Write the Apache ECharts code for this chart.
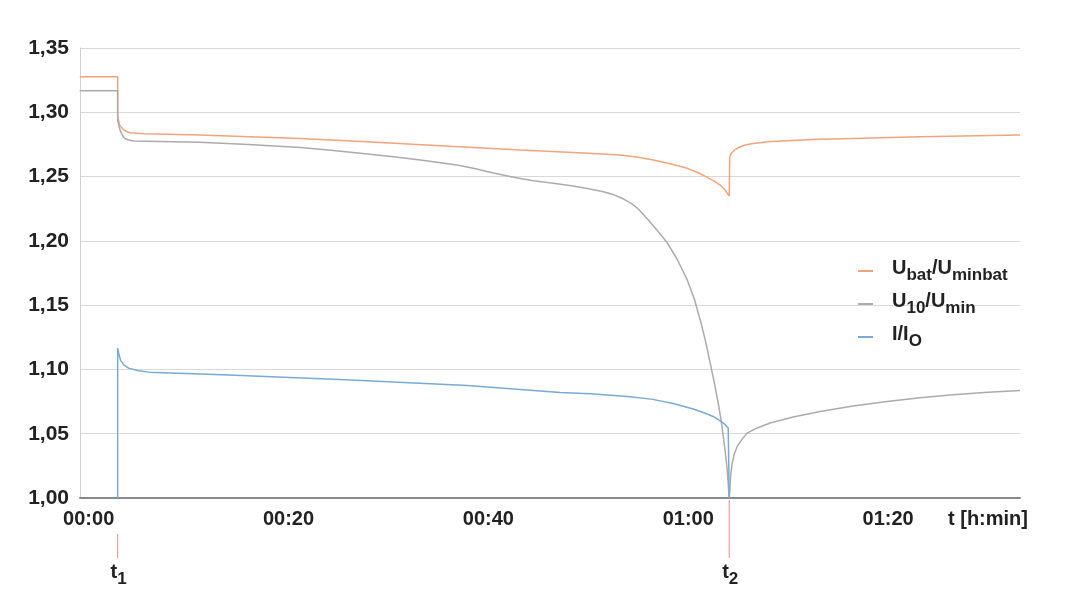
<!DOCTYPE html>
<html>
<head>
<meta charset="utf-8">
<script src="https://cdn.jsdelivr.net/npm/echarts@6/dist/echarts.min.js"></script>
<style>html,body{margin:0;padding:0;background:#fff}#c{width:1074px;height:614px}</style>
</head>
<body>
<div id="c"></div>
<script>
// ---- data (time in minutes, values as ratios) ----
const ubatT = [-0.9, 2.9, 2.9, 3.1, 3.5, 4.1, 5.5, 11.1, 21.2, 27.8, 35.2, 43.2, 49.0, 53.2, 55.0, 56.5, 58.2, 59.9, 61.0, 61.9, 62.6, 63.2, 63.7, 64.1, 64.15, 64.3, 64.6, 65.2, 65.8, 66.5, 68.0, 69.9, 73.0, 76.5, 83.2, 93.2];
const ubatV = [1.3276, 1.3276, 1.2965, 1.2900, 1.2862, 1.2841, 1.2833, 1.2823, 1.2797, 1.2771, 1.2740, 1.2706, 1.2685, 1.2667, 1.2650, 1.2629, 1.2600, 1.2564, 1.2530, 1.2494, 1.2465, 1.2434, 1.2395, 1.2349, 1.2654, 1.2680, 1.2705, 1.2732, 1.2748, 1.2758, 1.2770, 1.2779, 1.2790, 1.2797, 1.2810, 1.2823];

const u10T = [-0.9, 2.9, 2.9, 3.05, 3.2, 3.4, 3.6, 4.0, 4.5, 11.1, 16.0, 21.2, 24.5, 27.9, 30.5, 33.2, 35.2, 37.0, 38.6, 40.5, 42.5, 44.5, 46.5, 48.3, 49.9, 51.3, 52.5, 53.5, 54.3, 55.0, 55.9, 56.9, 57.9, 58.9, 59.9, 60.6, 61.2, 61.7, 62.2, 62.6, 63.0, 63.3, 63.5, 63.7, 63.9, 64.1, 64.15, 64.25, 64.4, 64.6, 64.9, 65.4, 65.9, 66.9, 68.2, 70.5, 73.2, 76.5, 79.9, 83.2, 86.5, 90.0, 93.2];
const u10V = [1.3167, 1.3167, 1.2940, 1.2885, 1.2849, 1.2818, 1.2797, 1.2784, 1.2776, 1.2766, 1.2750, 1.2727, 1.2703, 1.2675, 1.2654, 1.2629, 1.2608, 1.2588, 1.2562, 1.2528, 1.2494, 1.2468, 1.2448, 1.2428, 1.2408, 1.2386, 1.2360, 1.2327, 1.2292, 1.2248, 1.2172, 1.2080, 1.1985, 1.1855, 1.1696, 1.1550, 1.1385, 1.1230, 1.1049, 1.0900, 1.0738, 1.0600, 1.0479, 1.0360, 1.0220, 1.0000, 1.0050, 1.0180, 1.0270, 1.0340, 1.0401, 1.0458, 1.0505, 1.0545, 1.0583, 1.0630, 1.0673, 1.0715, 1.0751, 1.0780, 1.0803, 1.0822, 1.0836];

const curT = [2.9, 2.9, 3.05, 3.2, 3.5, 4.0, 5.0, 6.0, 13.4, 25.7, 37.9, 47.2, 50.2, 53.9, 56.3, 58.5, 60.5, 61.5, 62.5, 63.2, 63.7, 64.0, 64.1, 64.1];
const curV = [1.0, 1.1166, 1.1110, 1.1070, 1.1035, 1.1010, 1.0990, 1.0979, 1.0958, 1.0919, 1.0875, 1.0821, 1.0810, 1.0789, 1.0769, 1.0735, 1.0692, 1.0665, 1.0634, 1.0600, 1.0570, 1.0545, 1.0531, 1.0];

const seriesNames = ['Ubat/Uminbat', 'U10/Umin', 'I/Io'];
const xTickValues = [0, 20, 40, 60, 80];
const yMin = 1.0, yMax = 1.35, yStep = 0.05;
const xMin = -0.87, xMax = 93.2;
const markerNames = ['1', '2'];
const markerTimes = [2.9, 64.1];

// ---- styles ----
const colors = ['#f2a47c', '#ababab', '#79aad6'];
const markerLineTop = [36, 2];
const FONT = '"Liberation Sans", Arial, sans-serif';

const zip = (t, v) => t.map((x, i) => [x, v[i]]);
const legendRich = {
  g: { width: 14 },
  u: { fontSize: 20, fontWeight: 'bold', color: '#222', fontFamily: FONT, verticalAlign: 'top', lineHeight: 21 },
  s: { fontSize: 17, fontWeight: 'bold', color: '#222', fontFamily: FONT, verticalAlign: 'bottom', padding: [9, 0, 0, 0] }
};
const legendFmt = {
  'Ubat/Uminbat': '{g|}{u|U}{s|bat}{u|/U}{s|minbat}',
  'U10/Umin': '{g|}{u|U}{s|10}{u|/U}{s|min}',
  'I/Io': '{g|}{u|I/I}{s|O}'
};
const pad2 = n => String(n).padStart(2, '0');

const chart = echarts.init(document.getElementById('c'), null, { renderer: 'canvas' });
chart.setOption({
  animation: false,
  backgroundColor: '#fff',
  grid: { left: 80, right: 54, top: 48, bottom: 116, containLabel: false },
  legend: {
    orient: 'vertical', left: 853, top: 253, itemGap: 7,
    icon: 'rect', itemWidth: 15, itemHeight: 2,
    data: seriesNames,
    formatter: name => legendFmt[name],
    textStyle: { rich: legendRich, fontFamily: FONT }
  },
  xAxis: {
    type: 'value', min: xMin, max: xMax,
    axisLine: { show: true, lineStyle: { color: '#8a8a8a', width: 2 } },
    axisTick: { show: false },
    splitLine: { show: false },
    axisLabel: {
      customValues: xTickValues,
      margin: 11,
      color: '#222', fontSize: 20, fontWeight: 'bold', fontFamily: FONT,
      formatter: v => pad2(Math.floor(v / 60)) + ':' + pad2(Math.round(v % 60))
    },
    name: 't [h:min]', nameLocation: 'end', nameGap: 8,
    nameTextStyle: { color: '#222', fontSize: 20, fontWeight: 'bold', fontFamily: FONT, align: 'right', verticalAlign: 'top', padding: [11, 0, 0, 0] }
  },
  yAxis: {
    type: 'value', min: yMin, max: yMax, interval: yStep,
    axisLine: { show: true, onZero: false, lineStyle: { color: '#d0d0d0', width: 1 } },
    axisTick: { show: false },
    splitLine: { show: true, lineStyle: { color: '#d9d9d9', width: 1 } },
    axisLabel: {
      margin: 11, color: '#222', fontSize: 21, fontWeight: 'bold', fontFamily: FONT,
      formatter: v => v.toFixed(2).replace('.', ',')
    }
  },
  series: [
    { name: seriesNames[0], type: 'line', data: zip(ubatT, ubatV), color: colors[0], symbol: 'none', lineStyle: { width: 1.5, color: colors[0] } },
    { name: seriesNames[1], type: 'line', data: zip(u10T, u10V), color: colors[1], symbol: 'none', lineStyle: { width: 1.5, color: colors[1] } },
    { name: seriesNames[2], type: 'line', data: zip(curT, curV), color: colors[2], symbol: 'none', lineStyle: { width: 1.5, color: colors[2] } },
    {
      name: 'markers', type: 'custom', clip: false, silent: true,
      data: markerTimes.map(t => [t, yMin]),
      encode: { x: 0, y: 1 },
      renderItem: (params, api) => {
        const i = params.dataIndex;
        const p = api.coord([api.value(0), api.value(1)]);
        return {
          type: 'group',
          children: [
            { type: 'line', shape: { x1: p[0], y1: p[1] + markerLineTop[i], x2: p[0], y2: p[1] + 60 }, style: { stroke: '#f08a8a', lineWidth: 1 } },
            {
              type: 'text', x: p[0] + 1, y: p[1] + 64,
              style: {
                text: '{t|t}{s|' + markerNames[i] + '}', align: 'center', verticalAlign: 'top',
                rich: {
                  t: { fontSize: 20, fontWeight: 'bold', fill: '#222', fontFamily: FONT, verticalAlign: 'top', lineHeight: 21 },
                  s: { fontSize: 17, fontWeight: 'bold', fill: '#222', fontFamily: FONT, verticalAlign: 'bottom', padding: [9, 0, 0, 0] }
                }
              }
            }
          ]
        };
      }
    }
  ]
});
</script>
</body>
</html>
